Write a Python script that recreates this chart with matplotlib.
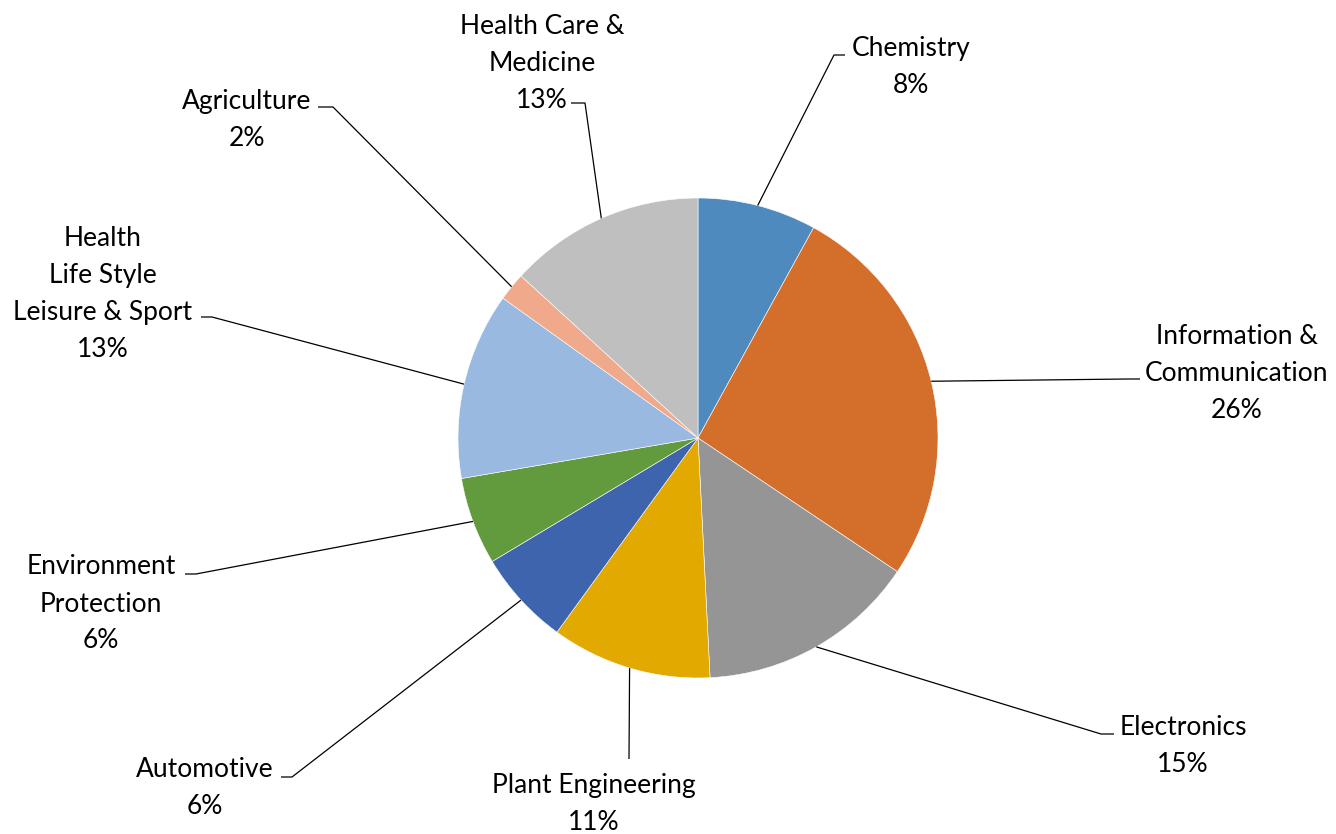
import numpy as np
import matplotlib
matplotlib.use("Agg")
import matplotlib.pyplot as plt

# data (share of projects, %), clockwise from 12 o'clock
sectors = ["Chemistry", "Information &\nCommunication", "Electronics",
           "Plant Engineering", "Automotive", "Environment\nProtection",
           "Health\nLife Style\nLeisure & Sport", "Agriculture",
           "Health Care &\nMedicine"]
shares = [8.0, 26.4, 14.8, 10.8, 6.4, 5.9, 12.6, 1.9, 13.2]
colors = ["#4F8ABE", "#D36F2B", "#959595", "#E2AA00", "#3D64AD",
          "#629A3E", "#99B9E0", "#F0A98A", "#BFBFBF"]

# label layout in pixels (y measured from the top of the image)
label_xy = [(911, 67), (1237, 373), (1183, 746), (594, 804), (205, 788),
            (101, 604), (103, 294), (247, 120), (542, 63)]
elbow_xy = [(834, 55), (1128, 379), (1101, 734), (629, 759), (292, 777),
            (196, 574), (212, 317), (333, 107), (585, 103)]
end_xy = [(845, 55), (1140, 379), (1114, 734), (629, 759), (281, 777),
          (185, 574), (201, 317), (318, 107), (571, 103)]

W, H = 1336, 834
plt.rcParams["font.family"] = ["Lato", "DejaVu Sans"]

fig = plt.figure(figsize=(W / 100, H / 100), dpi=100)
ax = fig.add_axes([0, 0, 1, 1])

cx, cy, r = 698, H - 438, 240
wedges, _ = ax.pie(shares, colors=colors, startangle=90, counterclock=False,
                   center=(cx, cy), radius=r, frame=True,
                   wedgeprops=dict(edgecolor="white", linewidth=0.4))
ax.set_xlim(0, W)
ax.set_ylim(0, H)
ax.axis("off")

for w, name, val, (tx, ty), (ex, ey), (sx, sy) in zip(
        wedges, sectors, shares, label_xy, elbow_xy, end_xy):
    mid = np.deg2rad((w.theta1 + w.theta2) / 2)
    px = w.center[0] + w.r * np.cos(mid)
    py = w.center[1] + w.r * np.sin(mid)
    ax.plot([px, ex, sx], [py, H - ey, H - sy], color="black", lw=0.9,
            solid_capstyle="butt")
    ax.text(tx, H - ty, f"{name}\n{val:.0f}%", ha="center", va="center",
            fontsize=19, color="black", linespacing=1.6)

fig.savefig("out.png", dpi=100)
